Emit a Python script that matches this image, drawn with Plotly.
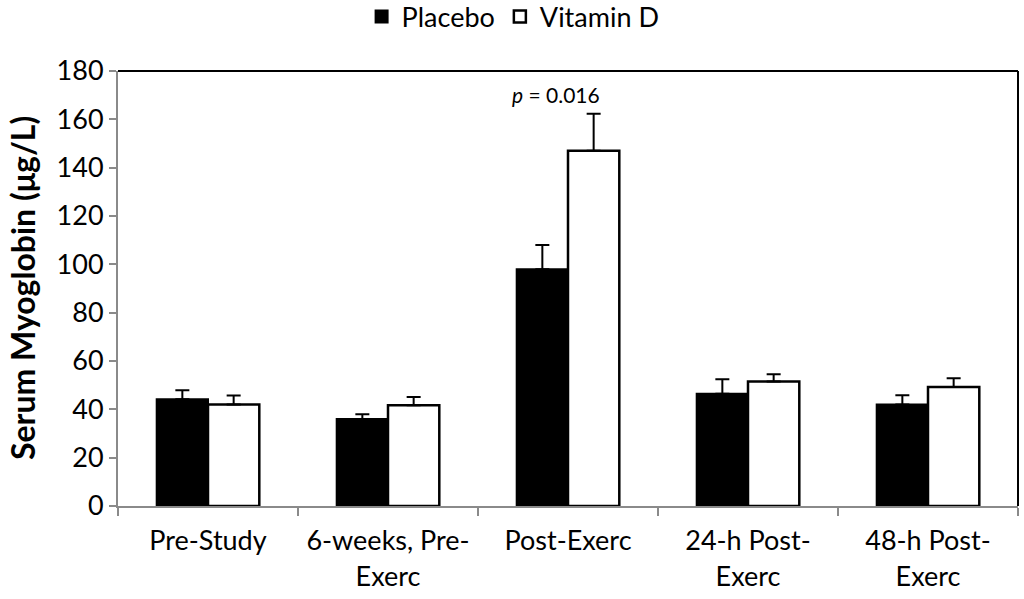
import plotly.graph_objects as go

categories = ["Pre-Study", "6-weeks, Pre-<br>Exerc", "Post-Exerc", "24-h Post-<br>Exerc", "48-h Post-<br>Exerc"]
placebo = [44.2, 36.0, 98.0, 46.5, 42.0]
placebo_err = [3.7, 2.0, 10.0, 6.0, 3.8]
vitd = [42.0, 41.7, 147.0, 51.5, 49.2]
vitd_err = [3.7, 3.4, 15.3, 3.0, 3.7]
yticks = [0, 20, 40, 60, 80, 100, 120, 140, 160, 180]
y_title = "Serum Myoglobin (μg/L)"

font = "Lato, Open Sans, sans-serif"

fig = go.Figure()
fig.add_trace(go.Bar(
    name="Placebo", x=categories, y=placebo,
    marker=dict(color="black", line=dict(color="black", width=2)),
    error_y=dict(type="data", array=placebo_err, arrayminus=[0]*5, symmetric=False,
                 color="black", thickness=2, width=7),
))
fig.add_trace(go.Bar(
    name="Vitamin D", x=categories, y=vitd,
    marker=dict(color="white", line=dict(color="black", width=2.5)),
    error_y=dict(type="data", array=vitd_err, arrayminus=[0]*5, symmetric=False,
                 color="black", thickness=2, width=7),
))

fig.add_annotation(x=categories[2], y=162, yshift=6, xshift=-12, yanchor="bottom",
                   text="<i>p</i> = 0.016", showarrow=False,
                   font=dict(family=font, size=21, color="black"))

# y-axis title
fig.add_annotation(xref="paper", yref="paper", x=-0.106, y=0.5, xanchor="center", yanchor="middle",
                   text="<b>" + y_title + "</b>", textangle=-90, showarrow=False,
                   font=dict(family=font, size=32, color="black"))

fig.add_shape(type="line", xref="paper", yref="paper", x0=0, x1=1, y0=1, y1=1,
              line=dict(color="black", width=2))
fig.add_shape(type="line", xref="paper", yref="paper", x0=1, x1=1, y0=0, y1=1,
              line=dict(color="black", width=2))

fig.update_layout(
    width=1024, height=599,
    margin=dict(l=118, r=6, t=71, b=93, autoexpand=False),
    paper_bgcolor="white", plot_bgcolor="white",
    barmode="group", bargap=0.43, bargroupgap=0,
    font=dict(family=font, size=27, color="black"),
    showlegend=True,
    legend=dict(orientation="h", x=0.439, xanchor="center", y=1.124, yanchor="middle",
                font=dict(size=27), traceorder="normal", itemwidth=30),
    xaxis=dict(
        showline=True, linecolor="#8a8a8a", linewidth=2,
        ticks="outside", tickson="boundaries", ticklen=8, tickcolor="#8a8a8a", tickwidth=2,
        tickfont=dict(size=27), showgrid=False, automargin=False, ticklabelstandoff=10,
    ),
    yaxis=dict(
        range=[0, 180], tickvals=yticks, showline=True, linecolor="#8a8a8a", linewidth=2,
        ticks="outside", ticklen=7, tickcolor="#8a8a8a", tickwidth=2,
        tickfont=dict(size=27), showgrid=False, zeroline=False, automargin=False,
        ticksuffix="\u200a",
    ),
)

fig.write_html("out.html", config={"displayModeBar": False},
               post_script="document.body.style.margin='0px';")
